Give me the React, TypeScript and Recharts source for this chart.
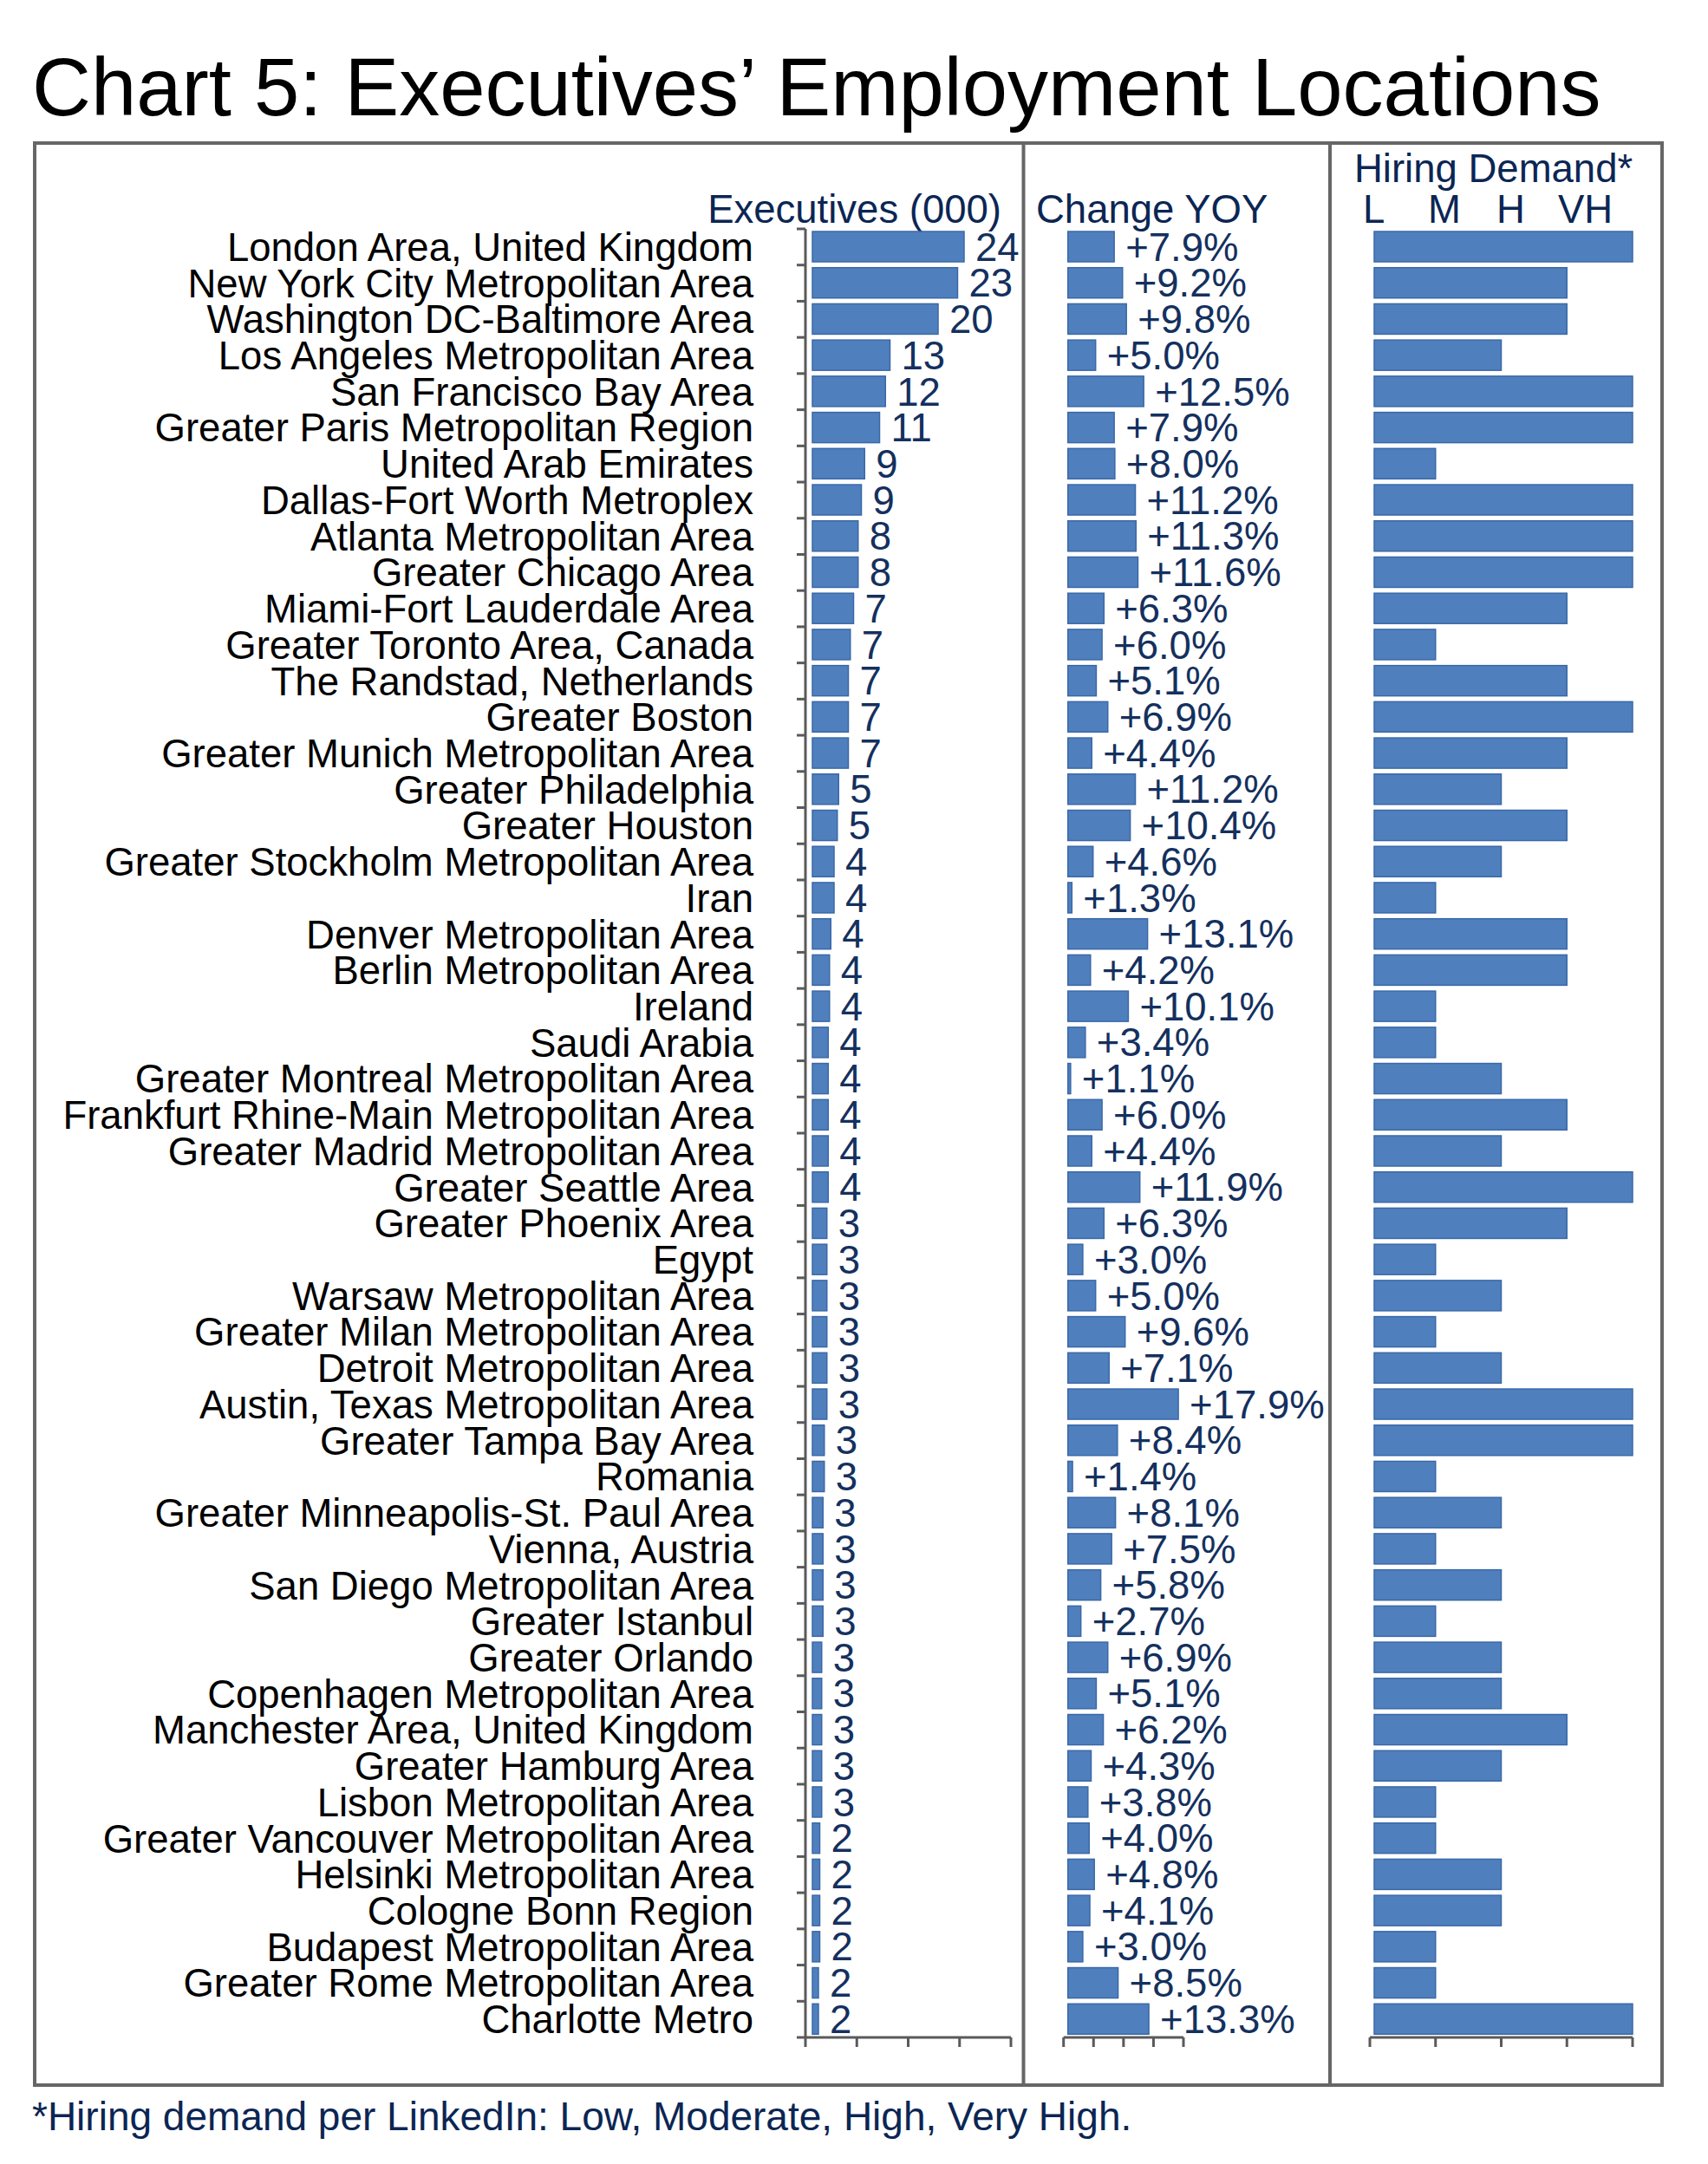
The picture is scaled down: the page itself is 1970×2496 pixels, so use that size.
import { BarChart, Bar, XAxis, YAxis, LabelList } from "recharts"

const locations = [
  "London Area, United Kingdom",
  "New York City Metropolitan Area",
  "Washington DC-Baltimore Area",
  "Los Angeles Metropolitan Area",
  "San Francisco Bay Area",
  "Greater Paris Metropolitan Region",
  "United Arab Emirates",
  "Dallas-Fort Worth Metroplex",
  "Atlanta Metropolitan Area",
  "Greater Chicago Area",
  "Miami-Fort Lauderdale Area",
  "Greater Toronto Area, Canada",
  "The Randstad, Netherlands",
  "Greater Boston",
  "Greater Munich Metropolitan Area",
  "Greater Philadelphia",
  "Greater Houston",
  "Greater Stockholm Metropolitan Area",
  "Iran",
  "Denver Metropolitan Area",
  "Berlin Metropolitan Area",
  "Ireland",
  "Saudi Arabia",
  "Greater Montreal Metropolitan Area",
  "Frankfurt Rhine-Main Metropolitan Area",
  "Greater Madrid Metropolitan Area",
  "Greater Seattle Area",
  "Greater Phoenix Area",
  "Egypt",
  "Warsaw Metropolitan Area",
  "Greater Milan Metropolitan Area",
  "Detroit Metropolitan Area",
  "Austin, Texas Metropolitan Area",
  "Greater Tampa Bay Area",
  "Romania",
  "Greater Minneapolis-St. Paul Area",
  "Vienna, Austria",
  "San Diego Metropolitan Area",
  "Greater Istanbul",
  "Greater Orlando",
  "Copenhagen Metropolitan Area",
  "Manchester Area, United Kingdom",
  "Greater Hamburg Area",
  "Lisbon Metropolitan Area",
  "Greater Vancouver Metropolitan Area",
  "Helsinki Metropolitan Area",
  "Cologne Bonn Region",
  "Budapest Metropolitan Area",
  "Greater Rome Metropolitan Area",
  "Charlotte Metro",
]

// thousands (labels are rounded)
const executives = [
  24.4, 23.4, 20.4, 13.0, 12.3, 11.4, 9.1, 8.6, 8.1, 8.1,
  7.4, 6.9, 6.6, 6.6, 6.6, 5.1, 4.9, 4.4, 4.4, 3.9,
  3.7, 3.7, 3.5, 3.5, 3.5, 3.5, 3.5, 3.3, 3.3, 3.3,
  3.3, 3.3, 3.3, 2.9, 2.9, 2.7, 2.7, 2.7, 2.7, 2.5,
  2.5, 2.5, 2.5, 2.5, 2.2, 2.2, 2.2, 2.2, 2.0, 2.0,
]

// percent change year over year
const changeYoy = [
  7.9, 9.2, 9.8, 5.0, 12.5, 7.9, 8.0, 11.2, 11.3, 11.6,
  6.3, 6.0, 5.1, 6.9, 4.4, 11.2, 10.4, 4.6, 1.3, 13.1,
  4.2, 10.1, 3.4, 1.1, 6.0, 4.4, 11.9, 6.3, 3.0, 5.0,
  9.6, 7.1, 17.9, 8.4, 1.4, 8.1, 7.5, 5.8, 2.7, 6.9,
  5.1, 6.2, 4.3, 3.8, 4.0, 4.8, 4.1, 3.0, 8.5, 13.3,
]

const hiringLevels = ["L", "M", "H", "VH"]

const hiringDemand = [
  "VH", "H", "H", "M", "VH", "VH", "L", "VH", "VH", "VH",
  "H", "L", "H", "VH", "H", "M", "H", "M", "L", "H",
  "H", "L", "L", "M", "H", "M", "VH", "H", "L", "M",
  "L", "M", "VH", "VH", "L", "M", "L", "M", "L", "M",
  "M", "H", "M", "L", "L", "M", "M", "L", "L", "VH",
]

const execTicks = [0, 7.9, 15.8, 23.7, 31.6]
const changeTicks = [0, 4.675, 9.35, 14.025, 18.7]
const hiringTicks = [0, 1, 2, 3, 4]

const rows = locations.map((name, i) => ({
  name,
  execs: executives[i],
  change: changeYoy[i],
  hiring: hiringLevels.indexOf(hiringDemand[i]) + 1,
}))

const FONT = '"Liberation Sans", Arial, Helvetica, sans-serif'
const NAVY = "#14305e"
const HEAD = "#0b2654"
const AXIS = "#5a5a5a"
const BAR_FILL = "#4f80bd"
const BAR_EDGE = "#3a68a8"

const CHART_TOP = 240
const CHART_H = 2140
const MARGIN_V = { top: 24, bottom: 10 }
const PLOT_BOTTOM = CHART_H - MARGIN_V.bottom - 20

// bars in the original start a few px right of the axis line
const insetBar = (inset: number) => (props: any) => {
  const { x, y, width, height } = props
  const w = Math.max(width - inset, 1)
  return (
    <rect
      x={x + inset}
      y={y}
      width={w}
      height={height}
      fill={BAR_FILL}
      stroke={BAR_EDGE}
      strokeWidth={1.5}
    />
  )
}

const EXEC_AXIS_X = 889

const CategoryTick = (props: any) => {
  const { y, payload, index } = props
  const half = payload?.offset ?? 20.86
  return (
    <g>
      <text
        x={EXEC_AXIS_X - 60}
        y={y}
        dy={16}
        textAnchor="end"
        fontSize={45.5}
        fontFamily={FONT}
        fill="#000"
      >
        {payload.value}
      </text>
      <line
        x1={EXEC_AXIS_X - 10}
        x2={EXEC_AXIS_X}
        y1={y + half}
        y2={y + half}
        stroke={AXIS}
        strokeWidth={3}
      />
      {index === 0 && (
        <line
          x1={EXEC_AXIS_X - 10}
          x2={EXEC_AXIS_X}
          y1={y - half}
          y2={y - half}
          stroke={AXIS}
          strokeWidth={3}
        />
      )}
    </g>
  )
}

// unlabeled tick marks hanging under the value axis
const MarkTick = (props: any) => {
  const { x } = props
  return (
    <line x1={x} x2={x} y1={PLOT_BOTTOM} y2={PLOT_BOTTOM + 11} stroke={AXIS} strokeWidth={3} />
  )
}

const axisLine = { stroke: AXIS, strokeWidth: 3 }

export default function App() {
  return (
    <div
      style={{
        position: "absolute",
        left: 0,
        top: 0,
        width: 1970,
        height: 2496,
        background: "#fff",
        fontFamily: FONT,
      }}
    >
      <svg width={1970} height={2496} style={{ position: "absolute", left: 0, top: 0 }}>
        <text x={37} y={133} fontSize={94} fontFamily={FONT} fill="#000">
          Chart 5: Executives’ Employment Locations
        </text>
        <rect x={40} y={165} width={1877} height={2240} fill="none" stroke="#666" strokeWidth={4} />
        <line x1={1180.5} x2={1180.5} y1={165} y2={2405} stroke="#666" strokeWidth={4} />
        <line x1={1534} x2={1534} y1={165} y2={2405} stroke="#666" strokeWidth={4} />

        <text x={1155} y={257} textAnchor="end" fontSize={45.5} fontFamily={FONT} fill={HEAD}>
          Executives (000)
        </text>
        <text x={1195} y={257} fontSize={45.5} fontFamily={FONT} fill={HEAD}>
          Change YOY
        </text>
        <text x={1562} y={210} fontSize={45.5} fontFamily={FONT} fill={HEAD}>
          Hiring Demand*
        </text>
        {hiringLevels.map((lv, i) => (
          <text
            key={lv}
            x={[1572, 1647, 1726, 1797][i]}
            y={257}
            fontSize={45.5}
            fontFamily={FONT}
            fill={HEAD}
          >
            {lv}
          </text>
        ))}

        <text x={37} y={2457} fontSize={46} fontFamily={FONT} fill={HEAD}>
          *Hiring demand per LinkedIn: Low, Moderate, High, Very High.
        </text>
      </svg>

      {/* Executives (000) */}
      <div style={{ position: "absolute", left: 40, top: CHART_TOP }}>
        <BarChart
          width={1140}
          height={CHART_H}
          layout="vertical"
          data={rows}
          margin={{ ...MARGIN_V, left: 0, right: 14 }}
          barSize={35}
        >
          <XAxis
            type="number"
            dataKey="execs"
            domain={[0, 31.6]}
            ticks={execTicks}
            interval={0}
            tick={<MarkTick />}
            tickLine={false}
            height={20}
            axisLine={axisLine}
          />
          <YAxis
            type="category"
            dataKey="name"
            width={EXEC_AXIS_X}
            interval={0}
            tickLine={false}
            axisLine={axisLine}
            tick={<CategoryTick />}
          />
          <Bar dataKey="execs" isAnimationActive={false} shape={insetBar(8)}>
            <LabelList
              dataKey="execs"
              position="right"
              offset={13}
              formatter={(v: any) => Math.round(Number(v))}
              fontSize={45.5}
              fontFamily={FONT}
              fill={NAVY}
            />
          </Bar>
        </BarChart>
      </div>

      {/* Change YOY */}
      <div style={{ position: "absolute", left: 1180, top: CHART_TOP }}>
        <BarChart
          width={355}
          height={CHART_H}
          layout="vertical"
          data={rows}
          margin={{ ...MARGIN_V, left: 46.7, right: 170 }}
          barSize={35}
        >
          <XAxis
            type="number"
            dataKey="change"
            domain={[0, 18.7]}
            ticks={changeTicks}
            interval={0}
            tick={<MarkTick />}
            tickLine={false}
            height={20}
            axisLine={axisLine}
          />
          <YAxis type="category" dataKey="name" hide />
          <Bar dataKey="change" isAnimationActive={false} shape={insetBar(5)}>
            <LabelList
              dataKey="change"
              position="right"
              offset={13}
              formatter={(v: any) => `+${Number(v).toFixed(1)}%`}
              fontSize={45.5}
              fontFamily={FONT}
              fill={NAVY}
            />
          </Bar>
        </BarChart>
      </div>

      {/* Hiring demand */}
      <div style={{ position: "absolute", left: 1535, top: CHART_TOP }}>
        <BarChart
          width={382}
          height={CHART_H}
          layout="vertical"
          data={rows}
          margin={{ ...MARGIN_V, left: 45, right: 34 }}
          barSize={35}
        >
          <XAxis
            type="number"
            dataKey="hiring"
            domain={[0, 4]}
            ticks={hiringTicks}
            interval={0}
            tick={<MarkTick />}
            tickLine={false}
            height={20}
            axisLine={axisLine}
          />
          <YAxis type="category" dataKey="name" hide />
          <Bar dataKey="hiring" isAnimationActive={false} shape={insetBar(5)} />
        </BarChart>
      </div>
    </div>
  )
}
